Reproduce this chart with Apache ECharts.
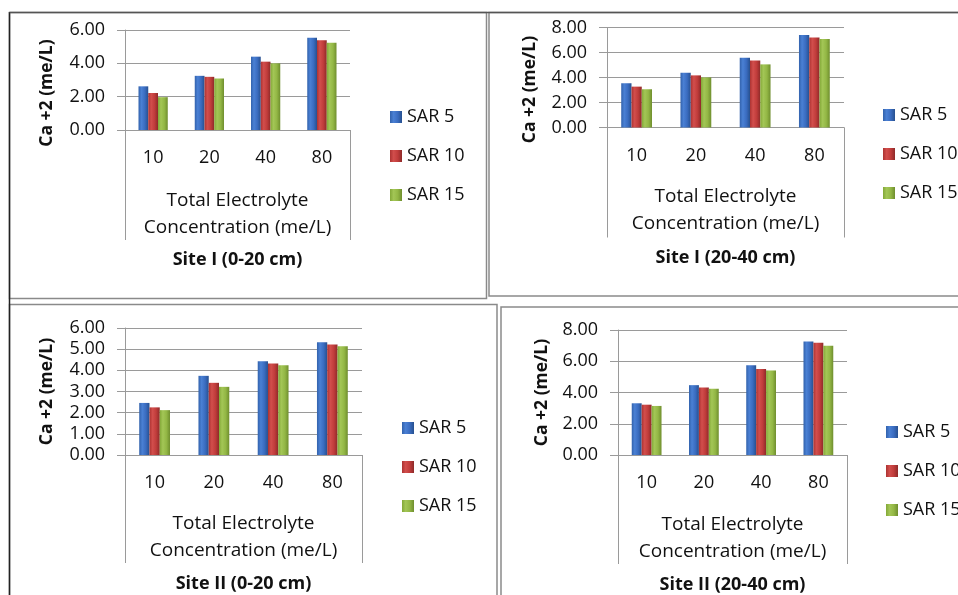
<!DOCTYPE html>
<html>
<head>
<meta charset="utf-8">
<script src="https://cdn.jsdelivr.net/npm/echarts@6/dist/echarts.min.js"></script>
<style>
html,body{margin:0;padding:0;background:#fff;}
#c{width:958px;height:595px;}
</style>
</head>
<body>
<div id="c"></div>
<script>
// ---- data ----
const categories = ['10', '20', '40', '80'];
const seriesNames = ['SAR 5', 'SAR 10', 'SAR 15'];
const levelTwoLabel = 'Total Electrolyte\nConcentration (me/L)';
const yAxisTitle = 'Ca +2 (me/L)';
const panelTitles = ['Site I (0-20 cm)', 'Site I (20-40 cm)', 'Site II (0-20 cm)', 'Site II (20-40 cm)'];

const p1_sar5  = [2.62, 3.25, 4.40, 5.54];
const p1_sar10 = [2.22, 3.19, 4.10, 5.38];
const p1_sar15 = [1.97, 3.09, 4.00, 5.24];

const p2_sar5  = [3.54, 4.38, 5.58, 7.41];
const p2_sar10 = [3.27, 4.17, 5.36, 7.20];
const p2_sar15 = [3.06, 4.01, 5.05, 7.09];

const p3_sar5  = [2.46, 3.74, 4.43, 5.33];
const p3_sar10 = [2.25, 3.41, 4.32, 5.22];
const p3_sar15 = [2.12, 3.22, 4.24, 5.14];

const p4_sar5  = [3.31, 4.47, 5.75, 7.27];
const p4_sar10 = [3.22, 4.32, 5.50, 7.19];
const p4_sar15 = [3.14, 4.24, 5.41, 7.00];

const yMax = [6, 8, 6, 8];
const yInterval = [2, 2, 1, 2];

// ---- layout / style ----
const FONT = '"Open Sans"';
const panels = [
  {grid:{left:125, top:30, width:225, height:100}, data:[p1_sar5,p1_sar10,p1_sar15],
   tick:110, lvl2:57, title:121, yName:69, yShift:26, legend:{left:385, top:103}},
  {grid:{left:607, top:27.5, width:237, height:100}, data:[p2_sar5,p2_sar10,p2_sar15],
   tick:110, lvl2:56, title:121, yName:68, yShift:24, legend:{left:878, top:101}},
  {grid:{left:125, top:328, width:237, height:127}, data:[p3_sar5,p3_sar10,p3_sar15],
   tick:108, lvl2:55, title:120, yName:69, yShift:0, legend:{left:397, top:414}},
  {grid:{left:618, top:330, width:229, height:129}, data:[p4_sar5,p4_sar10,p4_sar15],
   tick:109, lvl2:56, title:121, yName:67, yShift:0, legend:{left:881, top:418}}
];

function grad(leftC, mid, light, right) {
  return new echarts.graphic.LinearGradient(0, 0, 1, 0, [
    {offset: 0, color: leftC},
    {offset: 0.3, color: light},
    {offset: 0.65, color: mid},
    {offset: 1, color: right}
  ]);
}
const colors = [
  grad('#3262ac', '#3a6cc0', '#4a80d4', '#27508f'),
  grad('#ac3332', '#c03c3b', '#d24e4c', '#8e2a29'),
  grad('#83a838', '#93b745', '#a3c656', '#6f8e2e')
];

const grids = [], xAxes = [], yAxes = [], series = [], legends = [];
panels.forEach((p, k) => {
  grids.push(Object.assign({containLabel:false}, p.grid));
  xAxes.push({
    type:'category', gridIndex:k, data:categories, position:'bottom',
    axisLine:{show:true, lineStyle:{color:'#9a9a9a', width:1}},
    axisTick:{show:false},
    axisLabel:{color:'#111', fontFamily:FONT, fontSize:18, margin:19}
  });
  xAxes.push({
    type:'category', gridIndex:k, data:[levelTwoLabel], position:'bottom',
    axisLine:{show:false},
    axisTick:{show:true, length:p.tick, lineStyle:{color:'#9a9a9a', width:1}},
    axisLabel:{color:'#111', fontFamily:FONT, fontSize:19, lineHeight:27, margin:p.lvl2},
    name:panelTitles[k], nameLocation:'middle', nameGap:p.title,
    nameTextStyle:{color:'#111', fontFamily:FONT, fontSize:18, fontWeight:'bold'}
  });
  yAxes.push({
    type:'value', gridIndex:k, min:0, max:yMax[k], interval:yInterval[k],
    axisLine:{show:true, lineStyle:{color:'#9a9a9a', width:1}},
    axisTick:{show:true, inside:false, length:8, lineStyle:{color:'#9a9a9a'}},
    splitLine:{show:true, lineStyle:{color:'#9a9a9a', width:1}},
    axisLabel:{color:'#111', fontFamily:FONT, fontSize:18, margin:20,
      formatter:v => v.toFixed(2)},
    name:yAxisTitle, nameLocation:'middle', nameGap:p.yName, nameRotate:90,
    nameMoveOverlap:false,
    nameTextStyle:{color:'#111', fontFamily:FONT, fontSize:17.5, fontWeight:'bold',
      padding:[0, p.yShift, 0, 0]}
  });
  seriesNames.forEach((nm, s) => {
    series.push({
      type:'bar', name:nm, xAxisIndex:2*k, yAxisIndex:k, data:p.data[s],
      barGap:'0%', barCategoryGap:'48%',
      itemStyle:{color:colors[s]}, emphasis:{disabled:true}
    });
  });
  legends.push({
    orient:'vertical', left:p.legend.left, top:p.legend.top,
    data:seriesNames,
    itemWidth:12, itemHeight:12, itemGap:21, icon:'rect',
    textStyle:{color:'#111', fontFamily:FONT, fontSize:18, lineHeight:18},
    selectedMode:false
  });
});

const border = (x, y, w, h, c, lw) => ({type:'rect', shape:{x, y, width:w, height:h},
  style:{fill:null, stroke:c, lineWidth:lw}, silent:true, z:-1});

const option = {
  backgroundColor:'#fff',
  animation:false,
  grid:grids, xAxis:xAxes, yAxis:yAxes, series:series, legend:legends,
  graphic:[
    border(9.5, 12.5, 477, 286, '#8a8a8a', 1.5),
    border(489, 12.5, 480, 283.5, '#8a8a8a', 1.5),
    border(9.5, 304.5, 487.5, 300, '#8a8a8a', 1.5),
    border(501, 307, 470, 300, '#8a8a8a', 1.5),
    {type:'line', shape:{x1:9.5, y1:12, x2:9.5, y2:595}, style:{stroke:'#222', lineWidth:1.5}, silent:true},
    {type:'line', shape:{x1:9.5, y1:12.5, x2:958, y2:12.5}, style:{stroke:'#555', lineWidth:1.5}, silent:true}
  ]
};

const chart = echarts.init(document.getElementById('c'), null, {renderer:'canvas'});
chart.setOption(option);
</script>
</body>
</html>
